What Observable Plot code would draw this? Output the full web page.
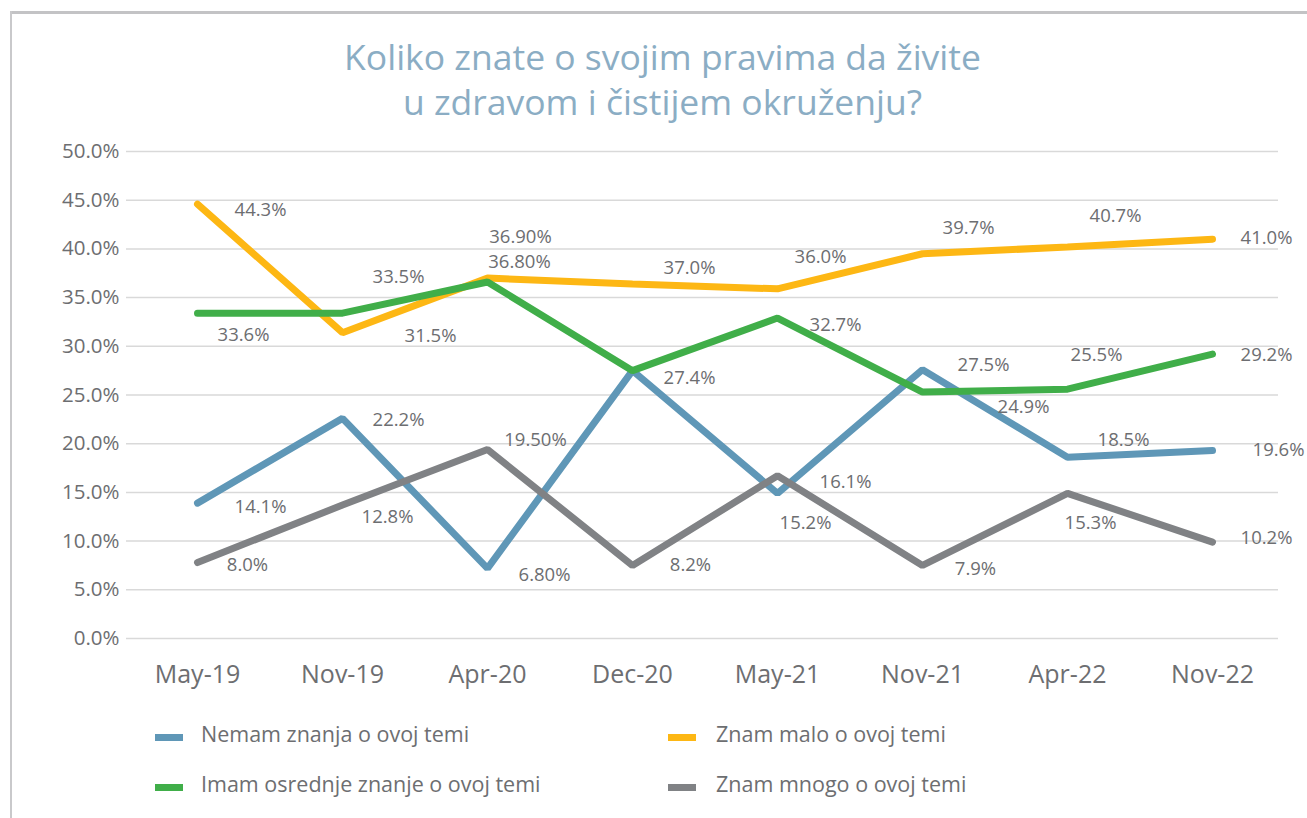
<!DOCTYPE html>
<html>
<head>
<meta charset="utf-8">
<script src="https://cdn.jsdelivr.net/npm/d3@7"></script>
<script src="https://cdn.jsdelivr.net/npm/@observablehq/plot@0.6"></script>
<style>
  body { margin: 0; background: #fff; font-family: "Open Sans", sans-serif; }
  #page { position: relative; width: 1307px; height: 818px; overflow: hidden; background: #fff; }
  #frameTop { position: absolute; left: 10px; top: 11px; width: 1297px; height: 3px; background: #c3c3c5; }
  #frameLeft { position: absolute; left: 10px; top: 11px; width: 2px; height: 807px; background: #c9c9cb; }
  .title { position: absolute; left: 9px; width: 1307px; text-align: center; color: #8badc4;
           font-size: 35.5px; line-height: 44px; height: 44px; white-space: nowrap; }
  #chart { position: absolute; left: 0; top: 130px; }
  .leg { position: absolute; font-size: 21.5px; line-height: 22px; color: #6d6e71; white-space: nowrap; }
  .sw { position: absolute; width: 28px; height: 7px; }
</style>
</head>
<body>
<div id="page">
  <div id="frameTop"></div>
  <div id="frameLeft"></div>
  <div class="title" style="top:34px">Koliko znate o svojim pravima da živite</div>
  <div class="title" style="top:79px">u zdravom i čistijem okruženju?</div>
  <div id="chart"></div>
  <div id="legend"></div>
</div>
<script>
// ---- data ----
const categories = ["May-19", "Nov-19", "Apr-20", "Dec-20", "May-21", "Nov-21", "Apr-22", "Nov-22"];
const seriesNames = ["Nemam znanja o ovoj temi", "Znam malo o ovoj temi", "Imam osrednje znanje o ovoj temi", "Znam mnogo o ovoj temi"];

// values as drawn by the lines in the picture (%)
const nemam    = [13.9, 22.6, 7.2, 27.5, 14.9, 27.6, 18.6, 19.3];
const malo     = [44.6, 31.4, 37.0, 36.4, 35.9, 39.5, 40.2, 41.0];
const osrednje = [33.4, 33.4, 36.6, 27.5, 32.9, 25.3, 25.6, 29.2];
const mnogo    = [7.8, 13.7, 19.4, 7.5, 16.7, 7.5, 14.9, 9.9];

// data label texts as printed in the picture
const nemamLabels    = ["14.1%", "22.2%", "6.80%", null, "15.2%", "27.5%", "18.5%", "19.6%"];
const maloLabels     = ["44.3%", "31.5%", "36.90%", "37.0%", "36.0%", "39.7%", "40.7%", "41.0%"];
const osrednjeLabels = ["33.6%", "33.5%", "36.80%", "27.4%", "32.7%", "24.9%", "25.5%", "29.2%"];
const mnogoLabels    = ["8.0%", "12.8%", "19.50%", "8.2%", "16.1%", "7.9%", "15.3%", "10.2%"];

const yTicks = [0, 5, 10, 15, 20, 25, 30, 35, 40, 45, 50];
const yTickLabels = ["0.0%", "5.0%", "10.0%", "15.0%", "20.0%", "25.0%", "30.0%", "35.0%", "40.0%", "45.0%", "50.0%"];

// ---- styling / layout ----
const colors = ["#5f97b7", "#fdb714", "#40ae49", "#808285"];
const textColor = "#6d6e71";
// per-label pixel offsets from the point (dx, dy)
const labelOffsets = [
  [[63, 4], [56, 2], [57, 7], [0, 0], [28, 30], [61, -5], [56, -17], [66, 0]],
  [[63, 6], [88, 3], [33, -41], [57, -16], [43, -32], [46, -26], [48, -31], [54, -1]],
  [[46, 22], [56, -36], [32, -20], [57, 7], [58, 7], [101, 15], [29, -34], [54, 1]],
  [[50, 3], [45, 12], [48, -9], [58, 0], [68, 6], [53, 4], [23, 30], [54, -4]]
];

const values = [nemam, malo, osrednje, mnogo];
const labels = [nemamLabels, maloLabels, osrednjeLabels, mnogoLabels];

const rows = [];
values.forEach((vals, s) => {
  vals.forEach((v, i) => rows.push({series: seriesNames[s], s, i, cat: categories[i], value: v, label: labels[s][i]}));
});

const lineMarks = seriesNames.map((name, s) =>
  Plot.line(rows.filter(r => r.s === s), {
    x: "cat", y: "value", stroke: colors[s], strokeWidth: 7,
    strokeLinecap: "round", strokeLinejoin: "miter"
  })
);

const labelMarks = rows.filter(r => r.label).map(r =>
  Plot.text([r], {
    x: "cat", y: "value", text: "label",
    dx: labelOffsets[r.s][r.i][0], dy: labelOffsets[r.s][r.i][1],
    fontSize: 18.5, fill: textColor, textAnchor: "middle", lineAnchor: "middle"
  })
);

const chart = Plot.plot({
  width: 1307,
  height: 570,
  marginTop: 21,
  marginBottom: 62,
  marginLeft: 126,
  marginRight: 29,
  style: {fontFamily: "'Open Sans', sans-serif", color: textColor, background: "transparent"},
  x: {type: "point", domain: categories, range: [197, 1212], padding: 0},
  y: {domain: [0, 50]},
  marks: [
    Plot.ruleY(yTicks, {stroke: "#d9d9d9", strokeWidth: 1.5}),
    Plot.axisY(yTicks, {
      tickSize: 0, tickPadding: 7, fontSize: 20.5, label: null,
      tickFormat: d => yTickLabels[yTicks.indexOf(d)]
    }),
    Plot.axisX({tickSize: 0, tickPadding: 27, fontSize: 25, label: null}),
    ...lineMarks,
    ...labelMarks
  ]
});
document.getElementById("chart").appendChild(chart);

// legend
const legend = document.getElementById("legend");
const legendPos = [
  {sx: 155, tx: 201, row: 0},
  {sx: 668, tx: 716, row: 0},
  {sx: 155, tx: 201, row: 1},
  {sx: 668, tx: 716, row: 1}
];
seriesNames.forEach((name, s) => {
  const p = legendPos[s];
  const sw = document.createElement("div");
  sw.className = "sw";
  sw.style.left = p.sx + "px";
  sw.style.top = (733.5 + p.row * 50) + "px";
  sw.style.background = colors[s];
  legend.appendChild(sw);
  const t = document.createElement("div");
  t.className = "leg";
  t.style.left = p.tx + "px";
  t.style.top = (723 + p.row * 50) + "px";
  t.textContent = name;
  legend.appendChild(t);
});
</script>
</body>
</html>
